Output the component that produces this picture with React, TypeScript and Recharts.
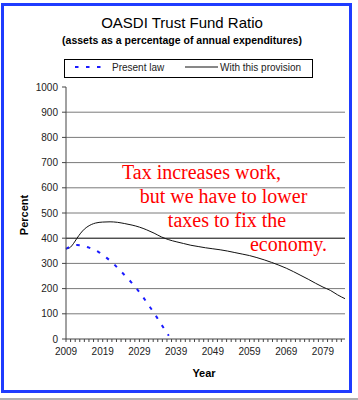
import { LineChart, Line, XAxis, YAxis, CartesianGrid, ReferenceLine } from 'recharts'

// Present law: assets as % of annual expenditures
const lawYears = [2009, 2010, 2011, 2012, 2013, 2014, 2015, 2016, 2017, 2018, 2019, 2020, 2021, 2022, 2023,
  2024, 2025, 2026, 2027, 2028, 2029, 2030, 2031, 2032, 2033, 2034, 2035, 2036, 2037]
const lawValues = [358, 366, 371, 373, 372, 369, 364, 358, 352, 344, 334, 323, 311, 298, 283,
  268, 253, 238, 221, 204, 186, 166, 145, 124, 103, 80, 57, 35, 13]

// With this provision
const provYears = [2009, 2010, 2011, 2012, 2013, 2014, 2015, 2017, 2019, 2021, 2023, 2025, 2027, 2029,
  2031, 2033, 2035, 2037, 2039, 2041, 2043, 2045, 2047, 2049, 2051, 2053, 2055, 2057, 2059, 2061,
  2063, 2065, 2067, 2069, 2071, 2073, 2075, 2077, 2079, 2081, 2083, 2085]
const provValues = [358, 362, 378, 400, 420, 436, 447, 460, 464, 465, 463, 458, 452, 444,
  433, 420, 405, 394, 386, 379, 372, 367, 362, 358, 354, 349, 343, 337, 331, 323,
  314, 304, 293, 281, 267, 252, 237, 221, 206, 193, 175, 160]

const yTicks = [0, 100, 200, 300, 400, 500, 600, 700, 800, 900, 1000]
const gridValues = [100, 200, 300, 500, 600, 700, 800, 900]
const xLabelYears = [2009, 2019, 2029, 2039, 2049, 2059, 2069, 2079]
const xTickStep = 1.25

const noteLines = ['Tax increases work,', 'but we have to lower', 'taxes to fix the', 'economy.']
const notePos = [[201.5, 178.5], [223.5, 203], [227, 226.5], [288.5, 251]]

const SANS = '"Liberation Sans", Arial, sans-serif'
const SERIF = '"Liberation Serif", "Times New Roman", serif'

const allYears = Array.from(new Set([...lawYears, ...provYears])).sort((a, b) => a - b)
const data = allYears.map(year => {
  const li = lawYears.indexOf(year)
  const pi = provYears.indexOf(year)
  return { year, law: li >= 0 ? lawValues[li] : null, prov: pi >= 0 ? provValues[pi] : null }
})

const xTicks: number[] = []
for (let t = 2009; t <= 2085; t += xTickStep) xTicks.push(t)

const fmtYear = (v: number) => (xLabelYears.some(y => Math.abs(y - v) < 1e-6) ? String(Math.round(v)) : '')

export default function App() {
  return (
    <div style={{ position: 'absolute', left: 0, top: 0, width: 358, height: 400, background: '#fff' }}>
      <div style={{
        position: 'absolute', left: 1, top: 3, width: 351, height: 390,
        border: '3px solid #1f3cff', boxSizing: 'border-box',
      }} />
      <div style={{ position: 'absolute', left: 0, top: 398, width: 358, height: 2, background: '#b0b0b0' }} />

      <div style={{ position: 'absolute', left: 0, top: 0 }}>
        <LineChart width={358} height={400} data={data} margin={{ top: 87, right: 13, bottom: 31, left: 26 }}>
          <CartesianGrid vertical={false} horizontalValues={gridValues} stroke="#7a7a7a" />
          <ReferenceLine y={400} stroke="#000" />
          <XAxis
            dataKey="year" type="number" domain={[2009, 2085]} ticks={xTicks} interval={0}
            tickFormatter={fmtYear} tickSize={3} height={30} tickMargin={6}
            stroke="#444" tick={{ fill: '#222', fontSize: 10, fontFamily: SANS }}
          />
          <YAxis
            domain={[0, 1000]} ticks={yTicks} interval={0} width={40} tickSize={4} tickMargin={4}
            stroke="#444" tick={{ fill: '#222', fontSize: 10, fontFamily: SANS }}
          />
          <Line type="monotone" dataKey="prov" stroke="#111" strokeWidth={1} dot={false} connectNulls isAnimationActive={false} />
          <Line type="monotone" dataKey="law" stroke="#1a1aff" strokeWidth={2} strokeDasharray="3.5 7.5" dot={false} connectNulls isAnimationActive={false} />
        </LineChart>
      </div>

      <svg width={358} height={400} style={{ position: 'absolute', left: 0, top: 0, pointerEvents: 'none' }}>
        <text x={182} y={28} textAnchor="middle" fontFamily={SANS} fontSize={15} fill="#000">OASDI Trust Fund Ratio</text>
        <text x={182} y={44} textAnchor="middle" fontFamily={SANS} fontSize={10.5} fontWeight="bold" fill="#000">
          (assets as a percentage of annual expenditures)
        </text>

        {/* legend box */}
        <rect x={64.5} y={59.5} width={248} height={18} fill="#fff" stroke="#000" />
        <line x1={75} y1={67} x2={108} y2={67} stroke="#1a1aff" strokeWidth={2} strokeDasharray="3.5 7.5" />
        <text x={112} y={71} fontFamily={SANS} fontSize={10} fill="#222">Present law</text>
        <line x1={185} y1={67} x2={218} y2={67} stroke="#111" />
        <text x={220} y={71} fontFamily={SANS} fontSize={10} fill="#222">With this provision</text>

        <text transform="translate(28,215) rotate(-90)" textAnchor="middle" fontFamily={SANS} fontSize={11} fontWeight="bold" fill="#000">Percent</text>
        <text x={204} y={377} textAnchor="middle" fontFamily={SANS} fontSize={11} fontWeight="bold" fill="#000">Year</text>

        {noteLines.map((s, i) => (
          <text key={i} x={notePos[i][0]} y={notePos[i][1]} textAnchor="middle" fontFamily={SERIF} fontSize={20} fill="#f00">{s}</text>
        ))}
      </svg>
    </div>
  )
}
